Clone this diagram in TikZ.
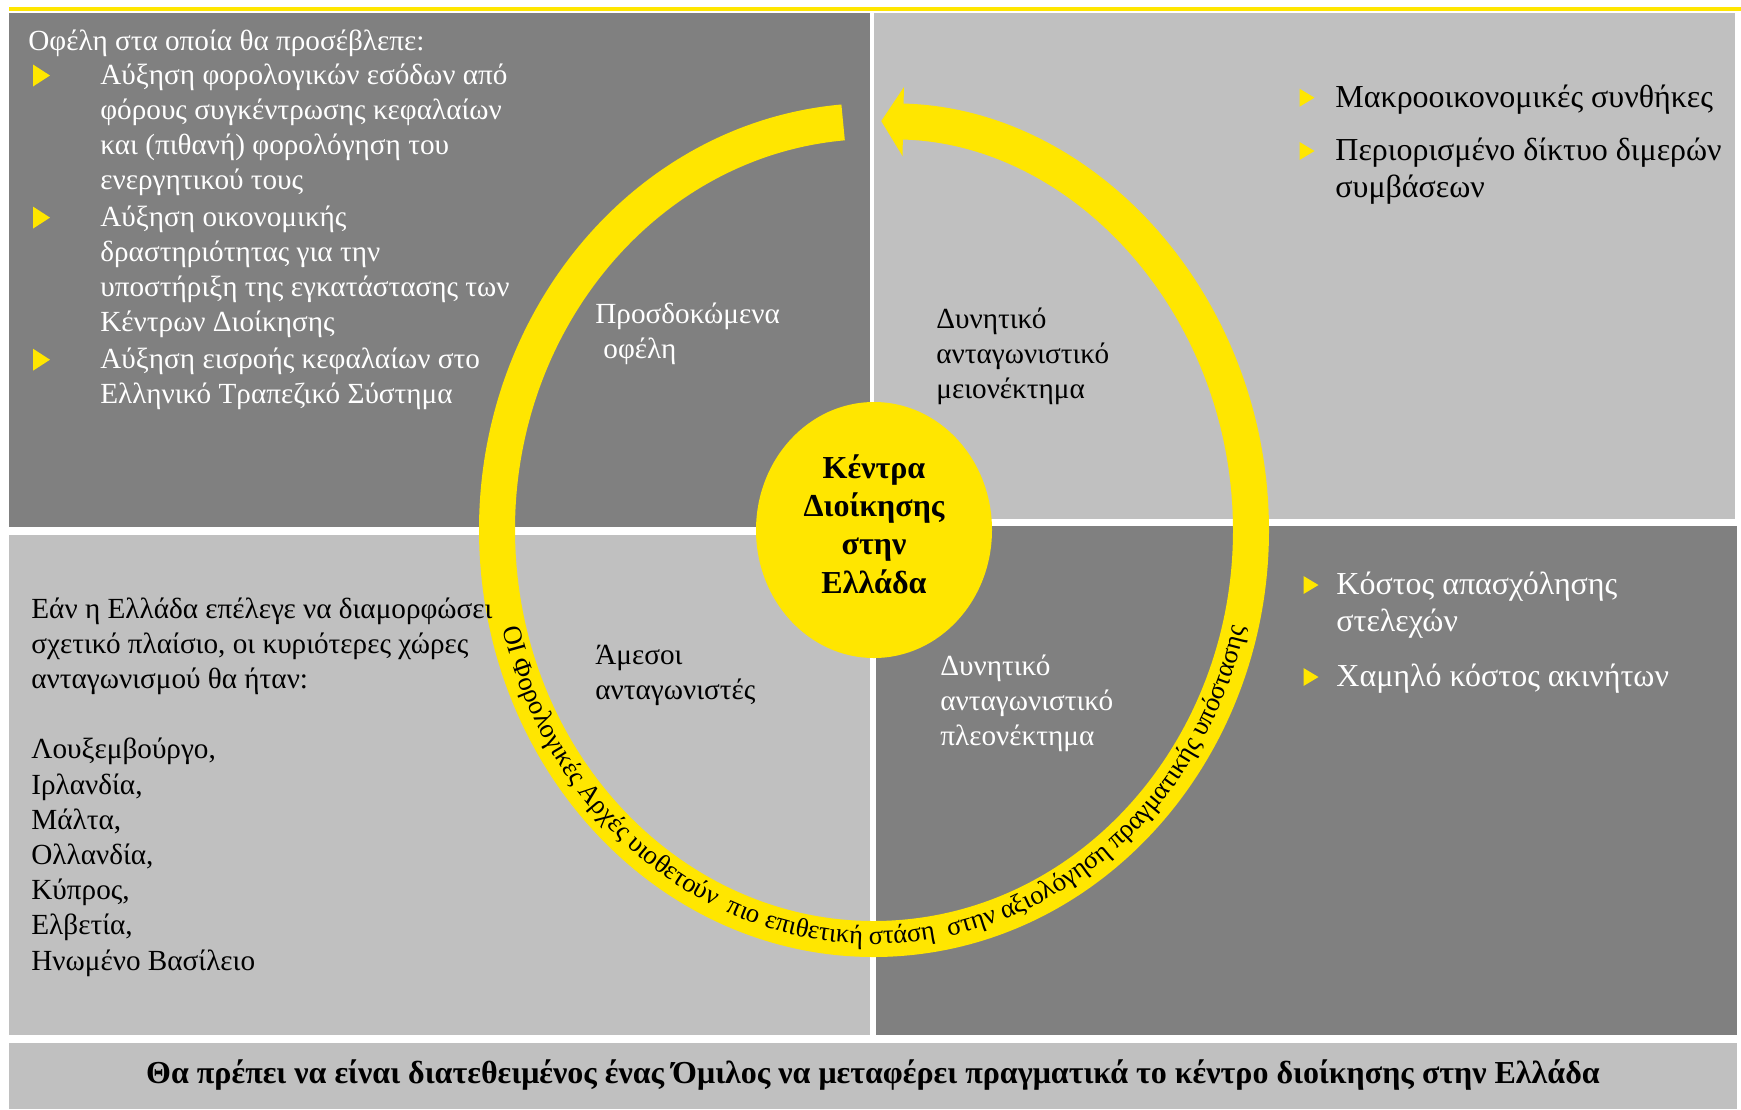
\documentclass[tikz,border=0pt]{standalone}
\usepackage{fontspec}
\setmainfont{Liberation Serif}
\usetikzlibrary{arrows.meta}
\usetikzlibrary{shapes.geometric}
\usetikzlibrary{decorations.text}
\definecolor{eyyellow}{HTML}{FFE600}
\definecolor{darkq}{HTML}{808080}
\definecolor{lightq}{HTML}{C0C0C0}
\newcommand{\ptr}[4]{\fill[eyyellow] (#1,#2) ++(-#3/2,#4/2) -- ++(#3,-#4/2) -- ++(-#3,-#4/2) -- cycle;}

\begin{document}
\begin{tikzpicture}[x=0.5pt,y=0.5pt,
    body/.style={inner sep=0pt,anchor=base west,align=left,font=\fontsize{14.6}{17.6}\selectfont},
    side/.style={inner sep=0pt,anchor=base west,align=left,font=\fontsize{16}{18.85}\selectfont}]
    \useasboundingbox (0,0) rectangle (1741,-1109);
    \fill[eyyellow] (9,-7) rectangle (1741,-11);
    \fill[darkq] (9,-13) rectangle (870,-527);
    \fill[lightq] (874,-13) rectangle (1735,-519);
    \fill[lightq] (9,-535) rectangle (870,-1035);
    \fill[darkq] (876,-526) rectangle (1737,-1035);
    \fill[lightq] (9,-1043) rectangle (1737,-1109);

    \coordinate (c) at (874,-530);
    \draw[eyyellow,line width=18pt,-{Triangle[length=11pt,width=34pt]}]
        (c) ++(94.7:377 and 409) arc[start angle=94.7,end angle=448.9,x radius=377,y radius=409];
    \path[decorate,decoration={text along path,text align=center,
        text={|\fontsize{13.3}{15}\selectfont|ΟΙ Φορολογικές Αρχές υιοθετούν {\ }πιο επιθετική στάση {\ }στην αξιολόγηση πραγματικής υπόστασης}}]
        (c) ++(180:382 and 414) arc[start angle=180,end angle=360,x radius=382,y radius=414];
    \node[ellipse,fill=eyyellow,minimum width=118pt,minimum height=128pt,inner sep=0pt] (hq) at (c) {};
    \node[align=center,inner sep=0pt,font=\bfseries\fontsize{16}{19.15}\selectfont] (hqtext) at ([yshift=3pt]hq.center) {Κέντρα\\Διοίκησης\\στην\\Ελλάδα};

    \node[body,text=white] (benhead) at (28,-50) {Οφέλη στα οποία θα προσέβλεπε:};
    \node[body,text=white] (ben1) at (100,-189.6) {Αύξηση φορολογικών εσόδων από\\φόρους συγκέντρωσης κεφαλαίων\\και (πιθανή) φορολόγηση του\\ενεργητικού τους};
    \node[body,text=white] (ben2) at (100,-331.6) {Αύξηση οικονομικής\\δραστηριότητας για την\\υποστήριξη της εγκατάστασης των\\Κέντρων Διοίκησης};
    \node[body,text=white] (ben3) at (100,-403.2) {Αύξηση εισροής κεφαλαίων στο\\Ελληνικό Τραπεζικό Σύστημα};
    \ptr{41.5}{-75.5}{17}{22}
    \ptr{41.5}{-217.6}{17}{22}
    \ptr{41.5}{-359.7}{17}{22}

    \node[side] (macro) at (1335,-107) {Μακροοικονομικές συνθήκες};
    \node[side] (treaty) at (1335,-197.7) {Περιορισμένο δίκτυο διμερών\\συμβάσεων};
    \ptr{1307}{-97.7}{15}{18}
    \ptr{1307}{-151}{15}{18}

    \node[side,text=white] (staff) at (1336,-631.7) {Κόστος απασχόλησης\\στελεχών};
    \node[side,text=white] (estate) at (1336,-686) {Χαμηλό κόστος ακινήτων};
    \ptr{1311}{-585}{15}{18}
    \ptr{1311}{-677}{15}{18}

    \node[body] (rivals) at (31,-970) {Εάν η Ελλάδα επέλεγε να διαμορφώσει\\σχετικό πλαίσιο, οι κυριότερες χώρες\\ανταγωνισμού θα ήταν:\\[17.6pt]Λουξεμβούργο,\\Ιρλανδία,\\Μάλτα,\\Ολλανδία,\\Κύπρος,\\Ελβετία,\\Ηνωμένο Βασίλειο};

    \node[body,text=white] (gain) at (595,-358.2) {Προσδοκώμενα\\\hspace*{4pt}οφέλη};
    \node[body] (weak) at (936,-398.4) {Δυνητικό\\ανταγωνιστικό\\μειονέκτημα};
    \node[body] (direct) at (595,-699.2) {Άμεσοι\\ανταγωνιστές};
    \node[body,text=white] (strong) at (940,-745.4) {Δυνητικό\\ανταγωνιστικό\\πλεονέκτημα};

    \node[anchor=base,inner sep=0pt,font=\bfseries\fontsize{16}{19}\selectfont] (must) at (873,-1083)
        {Θα πρέπει να είναι διατεθειμένος ένας Όμιλος να μεταφέρει πραγματικά το κέντρο διοίκησης στην Ελλάδα};
\end{tikzpicture}
\end{document}
